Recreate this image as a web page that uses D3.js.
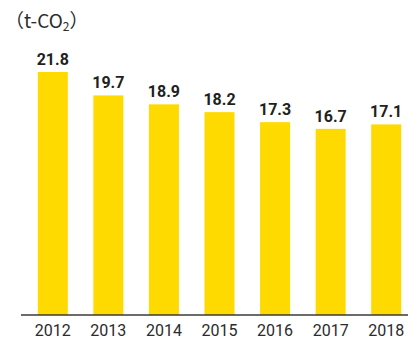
<!DOCTYPE html>
<html>
<head>
<meta charset="utf-8">
<script src="https://cdn.jsdelivr.net/npm/d3@7"></script>
<style>
  html, body { margin: 0; padding: 0; background: #fff; }
  svg { display: block; }
</style>
</head>
<body>
<svg id="chart" width="408" height="341"></svg>
<script>
// CO2 emissions per year (t-CO2)
const years = ["2012", "2013", "2014", "2015", "2016", "2017", "2018"];
const emissions = [21.8, 19.7, 18.9, 18.2, 17.3, 16.7, 17.1];

const svg = d3.select("#chart");
const baseY = 315;
const topY = 72;

const x = d3.scaleBand()
  .domain(years)
  .range([25, 414])
  .paddingInner(0.46)
  .paddingOuter(0.23);

const y = d3.scaleLinear()
  .domain([0, 21.8])
  .range([baseY, topY]);

// bars
svg.append("g")
  .selectAll("rect")
  .data(years)
  .join("rect")
  .attr("x", d => x(d))
  .attr("width", x.bandwidth())
  .attr("y", (d, i) => y(emissions[i]))
  .attr("height", (d, i) => baseY - y(emissions[i]))
  .attr("fill", "#FFDA00");

// value labels
svg.append("g")
  .selectAll("text")
  .data(years)
  .join("text")
  .attr("x", d => x(d) + x.bandwidth() / 2)
  .attr("y", (d, i) => y(emissions[i]) - 7)
  .attr("text-anchor", "middle")
  .attr("font-family", "Roboto, sans-serif")
  .attr("font-weight", "bold")
  .attr("font-size", 16)
  .attr("fill", "#231f20")
  .text((d, i) => emissions[i].toFixed(1));

// x axis
const axis = svg.append("g")
  .attr("transform", `translate(0,${baseY})`)
  .call(d3.axisBottom(x).tickSize(0).tickPadding(10));
axis.select(".domain")
  .attr("d", "M21,0H408")
  .attr("stroke", "#3a3a3a")
  .attr("stroke-width", 1.5);
axis.selectAll("text")
  .attr("font-family", "Roboto, sans-serif")
  .attr("font-size", 16)
  .attr("fill", "#2b2b2b");

// unit label
const unit = svg.append("text")
  .attr("x", 5)
  .attr("y", 28)
  .attr("font-family", "'Noto Sans CJK JP', sans-serif")
  .attr("font-size", 19)
  .attr("fill", "#2b2b2b");
unit.append("tspan").text("（t-CO");
unit.append("tspan").attr("font-size", 12).attr("dy", 3).text("2");
unit.append("tspan").attr("dy", -3).text("）");
</script>
</body>
</html>
